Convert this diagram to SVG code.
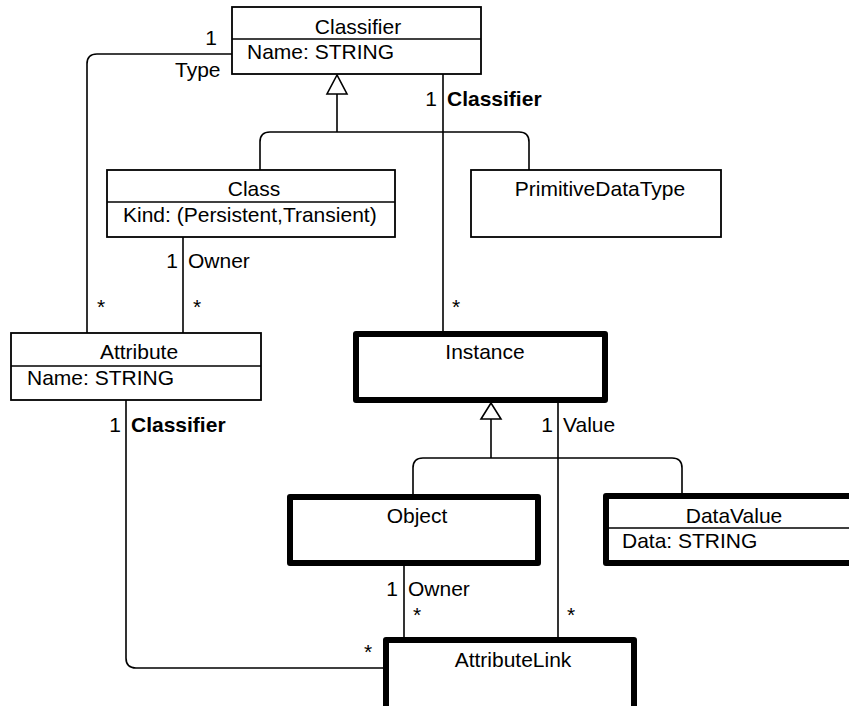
<svg xmlns="http://www.w3.org/2000/svg" width="849" height="706" viewBox="0 0 849 706">
  <style>
    text { font-family: "Liberation Sans", Arial, sans-serif; font-size: 21px; fill: #000; }
    .c { text-anchor: middle; }
    .e { text-anchor: end; }
    .b { font-weight: bold; }
    .box { fill: #fff; stroke: #000; stroke-width: 1.8; }
    .heavy { fill: #fff; stroke: #000; stroke-width: 6; stroke-linejoin: round; }
    .div { stroke: #000; stroke-width: 1.5; }
    .wire { fill: none; stroke: #000; stroke-width: 1.6; }
    .tri { fill: #fff; stroke: #000; stroke-width: 1.6; }
  </style>

  <g id="connectors">
    <!-- Classifier 1 Type -> Attribute * -->
    <path class="wire" d="M232,54 H97 Q87,54 87,64 V333"/>
    <!-- Classifier 1 -> Instance * -->
    <path class="wire" d="M443,74 V331"/>
    <!-- generalization: Class, PrimitiveDataType -> Classifier -->
    <path class="wire" d="M337,94 V132"/>
    <path class="wire" d="M260,170 V142 Q260,132 270,132 H519 Q529,132 529,142 V170"/>
    <polygon class="tri" points="337,75 327,94 347,94"/>
    <!-- Class 1 Owner -> Attribute * -->
    <path class="wire" d="M183,237 V333"/>
    <!-- Attribute 1 Classifier -> AttributeLink * -->
    <path class="wire" d="M126,400 V658 Q126,668 136,668 H383"/>
    <!-- generalization: Object, DataValue -> Instance -->
    <path class="wire" d="M491,419 V458"/>
    <path class="wire" d="M413,494 V468 Q413,458 423,458 H672 Q682,458 682,468 V493"/>
    <polygon class="tri" points="491,403 481,419 501,419"/>
    <!-- Instance 1 Value -> AttributeLink * -->
    <path class="wire" d="M558,403 V637"/>
    <!-- Object 1 Owner -> AttributeLink * -->
    <path class="wire" d="M404,566 V637"/>
  </g>

  <g id="labels">
    <text x="217" y="45" class="e">1</text>
    <text x="175" y="77">Type</text>
    <text x="437" y="106" class="e">1</text>
    <text x="447" y="106" class="b">Classifier</text>
    <text x="178" y="268" class="e">1</text>
    <text x="188" y="268">Owner</text>
    <text x="101" y="314" class="c">*</text>
    <text x="197" y="314" class="c">*</text>
    <text x="456" y="314" class="c">*</text>
    <text x="121" y="432" class="e">1</text>
    <text x="131" y="432" class="b">Classifier</text>
    <text x="553" y="432" class="e">1</text>
    <text x="563" y="432">Value</text>
    <text x="398" y="596" class="e">1</text>
    <text x="408" y="596">Owner</text>
    <text x="417" y="622" class="c">*</text>
    <text x="571" y="622" class="c">*</text>
    <text x="368" y="659" class="c">*</text>
  </g>

  <g id="Classifier">
    <rect class="box" x="232" y="7" width="249" height="67"/>
    <line class="div" x1="232" y1="39" x2="481" y2="39"/>
    <text x="358" y="34" class="c">Classifier</text>
    <text x="247" y="59">Name: STRING</text>
  </g>

  <g id="Class">
    <rect class="box" x="107" y="170" width="288" height="67"/>
    <line class="div" x1="107" y1="202" x2="395" y2="202"/>
    <text x="254" y="196" class="c">Class</text>
    <text x="123" y="222">Kind: (Persistent,Transient)</text>
  </g>

  <g id="PrimitiveDataType">
    <rect class="box" x="471" y="170" width="250" height="67"/>
    <text x="600" y="196" class="c">PrimitiveDataType</text>
  </g>

  <g id="Attribute">
    <rect class="box" x="11" y="333" width="250" height="67"/>
    <line class="div" x1="11" y1="366" x2="261" y2="366"/>
    <text x="139" y="359" class="c">Attribute</text>
    <text x="27" y="385">Name: STRING</text>
  </g>

  <g id="Instance">
    <rect class="heavy" x="356" y="334" width="249" height="66"/>
    <text x="485" y="359" class="c">Instance</text>
  </g>

  <g id="Object">
    <rect class="heavy" x="290" y="497" width="248" height="66"/>
    <text x="417" y="523" class="c">Object</text>
  </g>

  <g id="DataValue">
    <rect class="heavy" x="606" y="496" width="260" height="67"/>
    <line class="div" x1="606" y1="528" x2="849" y2="528"/>
    <text x="734" y="523" class="c">DataValue</text>
    <text x="622" y="548">Data: STRING</text>
  </g>

  <g id="AttributeLink">
    <rect class="heavy" x="386" y="640" width="248" height="80"/>
    <text x="513" y="667" class="c">AttributeLink</text>
  </g>
</svg>
